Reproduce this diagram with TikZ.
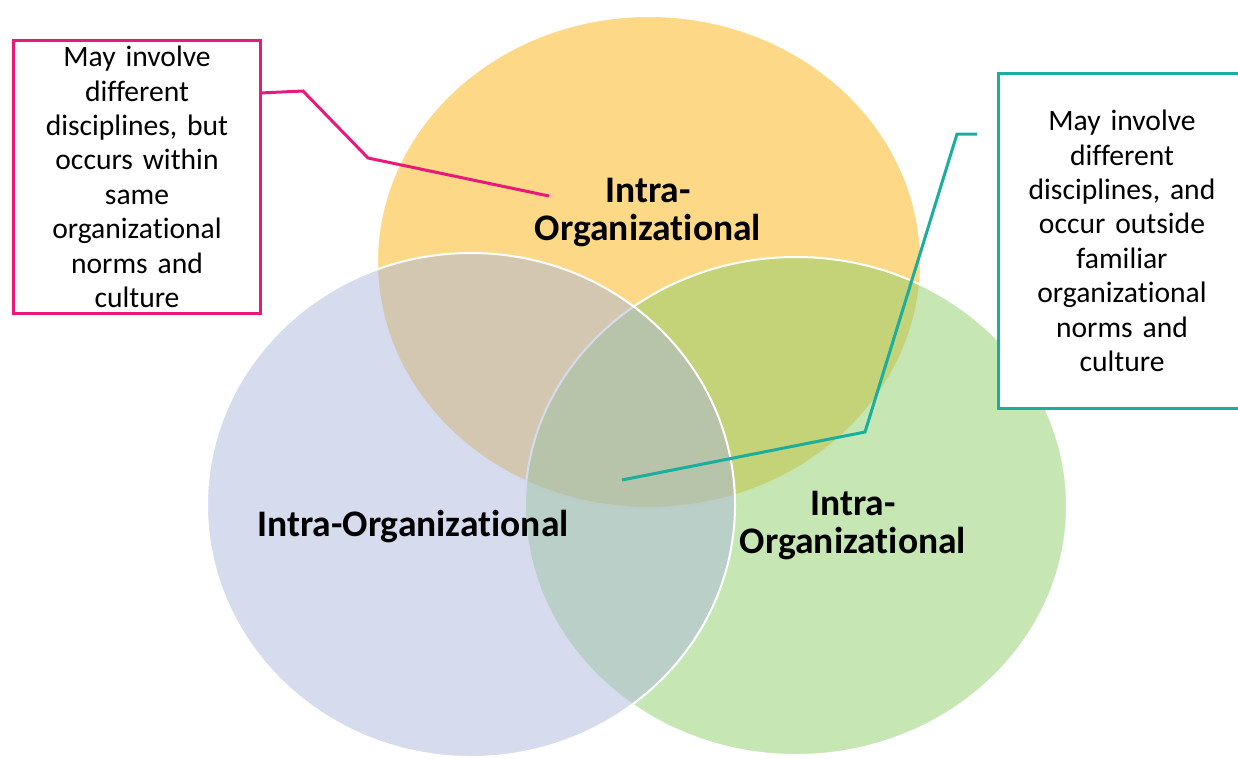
\documentclass[tikz,border=0pt]{standalone}
\usepackage{fontspec}
\setmainfont{Carlito}[Ligatures={NoCommon}]
\definecolor{orangeC}{RGB}{253,217,135}
\definecolor{greenC}{RGB}{141,207,105}
\definecolor{blueC}{RGB}{173,183,219}
\definecolor{pinkC}{RGB}{232,25,122}
\definecolor{tealC}{RGB}{26,174,159}
\begin{document}
\begin{tikzpicture}[x=1pt,y=-1pt,
  callout/.style={draw, line width=3pt, fill=white, align=center, inner sep=0pt,
    font=\fontsize{29.6}{34.4}\selectfont, text width=240pt},
  vennlabel/.style={font=\bfseries\fontsize{37.5}{38}\selectfont, align=center, inner sep=0pt},
  lead/.style={line width=3pt, line join=miter},
  rim/.style={draw=white, line width=2pt}]
\useasboundingbox (0,0) rectangle (1238,758);
\clip (0,0) rectangle (1238,758);
% circles
\fill[orangeC] (649,262) ellipse [x radius=272pt, y radius=246pt];
\draw[rim] (649,262) ellipse [x radius=272pt, y radius=246pt];
\fill[greenC, fill opacity=0.5] (796,506) ellipse [x radius=271pt, y radius=249pt];
\draw[rim] (796,506) ellipse [x radius=271pt, y radius=249pt];
\fill[blueC, fill opacity=0.5] (471,505) ellipse [x radius=264pt, y radius=252pt];
\draw[rim] (471,505) ellipse [x radius=264pt, y radius=252pt];
% labels
\node[vennlabel] (toplabel) at (648,213) {Intra-\\Organizational};
\node[vennlabel] (leftlabel) at (413,527) {Intra-Organizational};
\node[vennlabel] (rightlabel) at (853,526) {Intra-\\Organizational};
% callouts
\node[callout, draw=pinkC, minimum width=247pt, minimum height=273pt] (pinkbox) at (137,177)
  {May involve\\different\\disciplines, but\\occurs within\\same\\organizational\\norms and\\culture};
\node[callout, draw=tealC, minimum width=247pt, minimum height=335pt] (tealbox) at (1122,241)
  {May involve\\different\\disciplines, and\\occur outside\\familiar\\organizational\\norms and\\culture};
% leader lines
\coordinate (pk0) at (260,93);
\coordinate (pk1) at (303,91);
\coordinate (pk2) at (368,158);
\coordinate (pk3) at (549,196);
\draw[lead, pinkC] (pk0) -- (pk1) -- (pk2) -- (pk3);
\coordinate (tl0) at (977,134);
\coordinate (tl1) at (957,134);
\coordinate (tl2) at (865,432);
\coordinate (tl3) at (622,480);
\draw[lead, tealC] (tl0) -- (tl1) -- (tl2) -- (tl3);
\end{tikzpicture}
\end{document}
